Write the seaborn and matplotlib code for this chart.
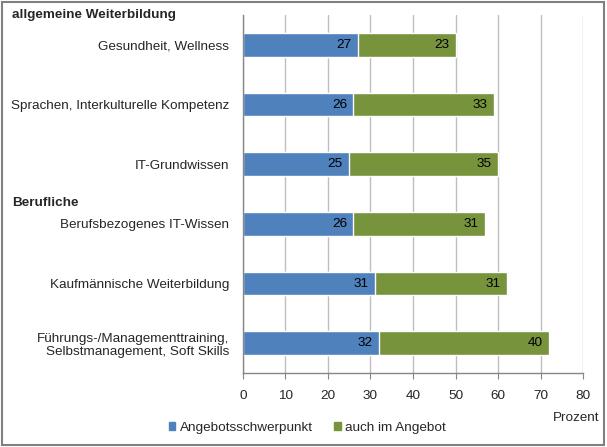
import pandas as pd
import numpy as np
import matplotlib
matplotlib.use("Agg")
import matplotlib.pyplot as plt
import seaborn as sns
from matplotlib.patches import Rectangle, Patch

categories = ["Gesundheit, Wellness",
              "Sprachen, Interkulturelle Kompetenz",
              "IT-Grundwissen",
              "Berufsbezogenes IT-Wissen",
              "Kaufmännische Weiterbildung",
              "Führungs-/Managementtraining,\nSelbstmanagement, Soft Skills"]
schwerpunkt = [27, 26, 25, 26, 31, 32]
auch_angebot = [23, 33, 35, 31, 31, 40]
x_ticks = [0, 10, 20, 30, 40, 50, 60, 70, 80]

blue = "#4F81BD"
green = "#77933C"

df = pd.DataFrame({"cat": categories, "a": schwerpunkt, "b": auch_angebot})
df["total"] = df["a"] + df["b"]

sns.set_style("white")
plt.rcParams["font.family"] = ["Liberation Sans", "DejaVu Sans"]

fig = plt.figure(figsize=(6.07, 4.47), dpi=100)
ax = fig.add_axes([0.4003, 0.1655, 0.5602, 0.8009])

sns.barplot(data=df, y="cat", x="total", color=green, width=0.4, orient="h",
            saturation=1, ax=ax)
sns.barplot(data=df, y="cat", x="a", color=blue, width=0.4, orient="h",
            saturation=1, ax=ax)

fs = 9.7
for i, (a, b) in enumerate(zip(schwerpunkt, auch_angebot)):
    ax.text(a - 1.5, i, str(a), ha="right", va="center", fontsize=fs, color="black")
    ax.text(a + b - 1.5, i, str(b), ha="right", va="center", fontsize=fs, color="black")

ax.set_xlim(0, 80)
ax.set_ylim(5.5, -0.5)
ax.set_xticks(x_ticks)
ax.set_xticklabels([str(t) for t in x_ticks], fontsize=fs)
ax.set_yticks(range(len(categories)))
ax.set_yticklabels(categories, fontsize=fs, ha="right", linespacing=1.15)
ax.set_yticks(np.arange(-0.5, 6, 1), minor=True)
ax.tick_params(axis="y", which="major", length=0, pad=10)
ax.tick_params(axis="y", which="minor", length=4, color="#868686", direction="out")
ax.tick_params(axis="x", length=4, color="#868686", direction="out", pad=8, bottom=True)
ax.set_xlabel("")
ax.set_ylabel("")
ax.grid(axis="x", color="#BEBEBE", linewidth=1)
ax.set_axisbelow(True)
for s in ["top", "right"]:
    ax.spines[s].set_visible(False)
for s in ["left", "bottom"]:
    ax.spines[s].set_color("#868686")
    ax.spines[s].set_linewidth(1)

fig.text(12 / 607, 1 - 15 / 447, "allgemeine Weiterbildung", fontsize=fs,
         fontweight="bold", ha="left", va="center")
fig.text(12 / 607, 1 - 203 / 447, "Berufliche", fontsize=fs,
         fontweight="bold", ha="left", va="center")
fig.text(1 - 8 / 607, 1 - 418 / 447, "Prozent", fontsize=fs, ha="right", va="center")

handles = [Patch(color=blue, label="Angebotsschwerpunkt"),
           Patch(color=green, label="auch im Angebot")]
fig.legend(handles=handles, loc="center", bbox_to_anchor=(0.506, 1 - 428 / 447),
           ncol=2, frameon=False, fontsize=fs, handlelength=0.5, handleheight=0.5,
           handletextpad=0.3, columnspacing=1.6)

fig.patches.append(Rectangle((0.003, 0.005), 0.992, 0.99, transform=fig.transFigure,
                             fill=False, edgecolor="#808080", linewidth=1.5))

fig.savefig("out.png", dpi=100)
